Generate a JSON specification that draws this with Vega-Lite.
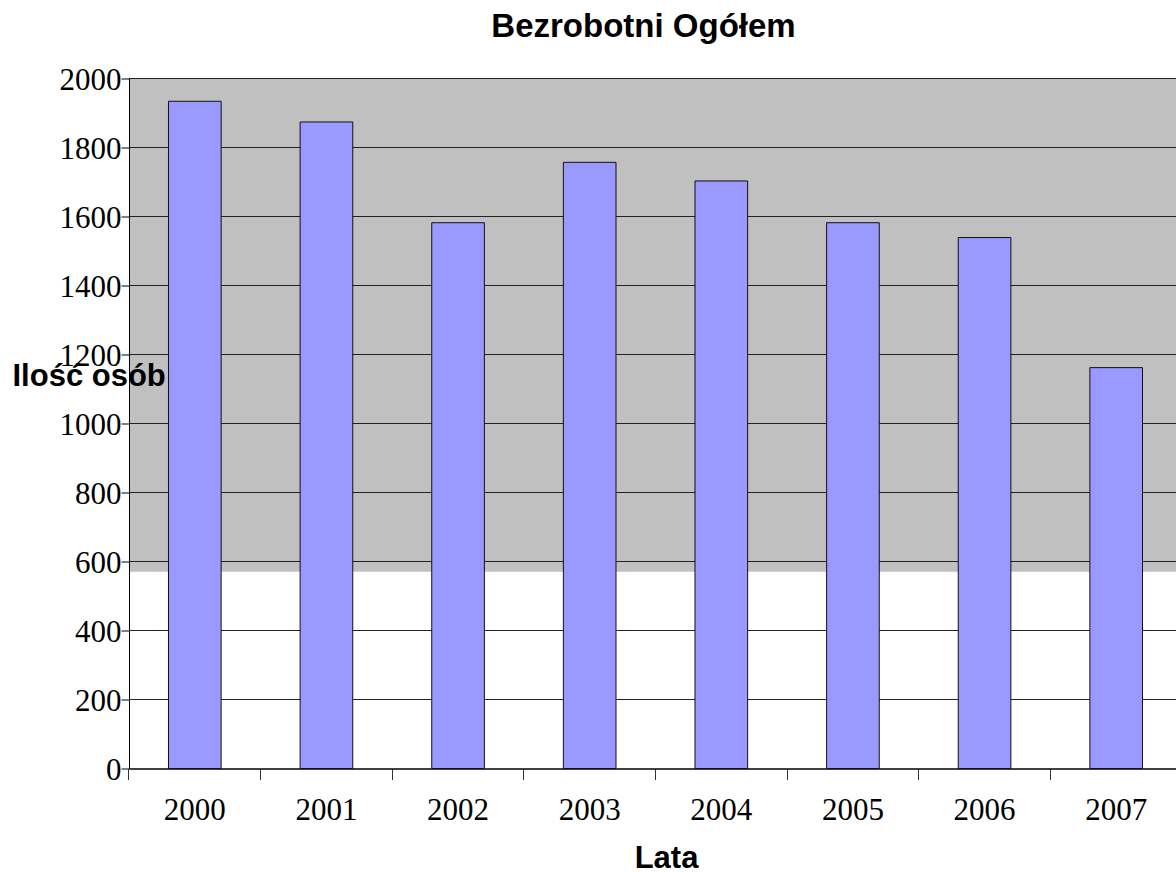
{
  "$schema": "https://vega.github.io/schema/vega-lite/v6.json",
  "width": 1047,
  "height": 690,
  "autosize": {"type": "none"},
  "padding": {"left": 129, "top": 78.5, "right": 0, "bottom": 103.5},
  "background": "white",
  "config": {"view": {"stroke": null}},
  "title": {
    "text": "Bezrobotni Ogółem",
    "font": "Liberation Sans",
    "fontSize": 33,
    "fontWeight": "bold",
    "color": "black",
    "anchor": "middle",
    "frame": "group",
    "baseline": "alphabetic",
    "offset": -5,
    "dx": -9
  },
  "datasets": {
    "bars": [
      {"rok": "2000", "osoby": 1934},
      {"rok": "2001", "osoby": 1874},
      {"rok": "2002", "osoby": 1582},
      {"rok": "2003", "osoby": 1757},
      {"rok": "2004", "osoby": 1703},
      {"rok": "2005", "osoby": 1582},
      {"rok": "2006", "osoby": 1539},
      {"rok": "2007", "osoby": 1162}
    ],
    "shade": [{"gora": 2000, "dol": 570}],
    "grid": [
      {"v": 200}, {"v": 400}, {"v": 600}, {"v": 800}, {"v": 1000},
      {"v": 1200}, {"v": 1400}, {"v": 1600}, {"v": 1800}, {"v": 2000}
    ]
  },
  "layer": [
    {
      "data": {"name": "shade"},
      "mark": {"type": "rect", "color": "#c0c0c0"},
      "encoding": {
        "y": {
          "field": "gora", "type": "quantitative",
          "scale": {"domain": [0, 2000], "nice": false},
          "axis": {
            "values": [0, 200, 400, 600, 800, 1000, 1200, 1400, 1600, 1800, 2000],
            "format": "d", "grid": false, "zindex": 1,
            "title": "Ilość osób",
            "titleFont": "Liberation Sans", "titleFontSize": 31, "titleFontWeight": "bold", "titleColor": "black",
            "titleAngle": 0, "titleAlign": "left", "titleBaseline": "alphabetic",
            "titleX": -117, "titleY": 307,
            "labelFont": "Liberation Serif", "labelFontSize": 31, "labelColor": "black",
            "labelPadding": 0, "labelBaseline": "middle", "labelOffset": 2,
            "tickSize": 8, "tickColor": "black", "domainColor": "black", "domainWidth": 1
          }
        },
        "y2": {"field": "dol"}
      }
    },
    {
      "data": {"name": "grid"},
      "mark": {"type": "rule", "color": "#222222", "strokeWidth": 1},
      "encoding": {
        "y": {
          "field": "v", "type": "quantitative",
          "axis": {
            "values": [0, 200, 400, 600, 800, 1000, 1200, 1400, 1600, 1800, 2000],
            "format": "d", "grid": false, "zindex": 1,
            "title": "Ilość osób",
            "titleFont": "Liberation Sans", "titleFontSize": 31, "titleFontWeight": "bold", "titleColor": "black",
            "titleAngle": 0, "titleAlign": "left", "titleBaseline": "alphabetic",
            "titleX": -117, "titleY": 307,
            "labelFont": "Liberation Serif", "labelFontSize": 31, "labelColor": "black",
            "labelPadding": 0, "labelBaseline": "middle", "labelOffset": 2,
            "tickSize": 8, "tickColor": "black", "domainColor": "black", "domainWidth": 1
          }
        }
      }
    },
    {
      "data": {"name": "bars"},
      "mark": {"type": "bar", "fill": "#9999ff", "stroke": "#111111", "strokeWidth": 1},
      "encoding": {
        "x": {
          "field": "rok", "type": "nominal", "sort": null,
          "scale": {"range": [0, 1053], "paddingInner": 0.6, "paddingOuter": 0.3},
          "axis": {
            "title": "Lata",
            "titleFont": "Liberation Sans", "titleFontSize": 31, "titleFontWeight": "bold", "titleColor": "black",
            "titleAlign": "center", "titleBaseline": "alphabetic", "titleX": 537, "titleY": 99,
            "labelFont": "Liberation Serif", "labelFontSize": 31, "labelColor": "black",
            "labelAngle": 0, "labelBaseline": "top", "labelPadding": 16,
            "bandPosition": -0.75,
            "tickSize": 11, "tickColor": "#333333",
            "domainColor": "black", "domainWidth": 1.5, "grid": false
          }
        },
        "y": {
          "field": "osoby", "type": "quantitative",
          "axis": {
            "values": [0, 200, 400, 600, 800, 1000, 1200, 1400, 1600, 1800, 2000],
            "format": "d", "grid": false, "zindex": 1,
            "title": "Ilość osób",
            "titleFont": "Liberation Sans", "titleFontSize": 31, "titleFontWeight": "bold", "titleColor": "black",
            "titleAngle": 0, "titleAlign": "left", "titleBaseline": "alphabetic",
            "titleX": -117, "titleY": 307,
            "labelFont": "Liberation Serif", "labelFontSize": 31, "labelColor": "black",
            "labelPadding": 0, "labelBaseline": "middle", "labelOffset": 2,
            "tickSize": 8, "tickColor": "black", "domainColor": "black", "domainWidth": 1
          }
        }
      }
    }
  ]
}
